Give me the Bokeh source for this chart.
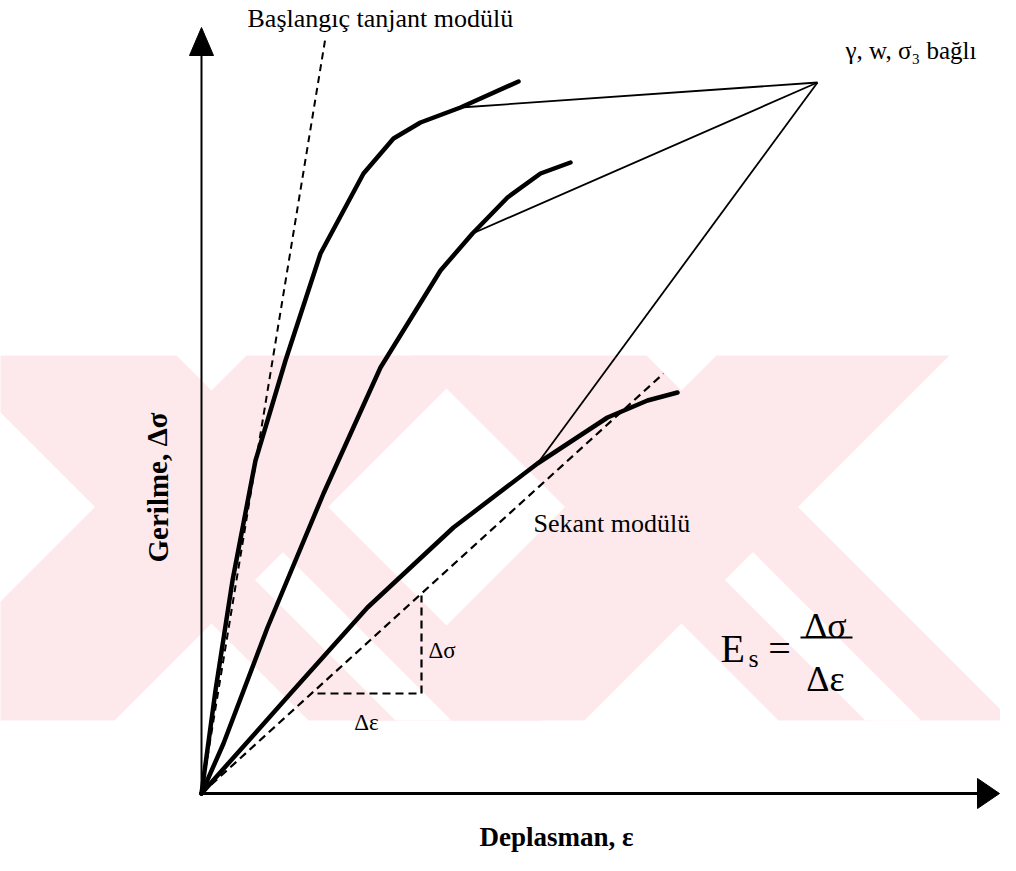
from bokeh.plotting import figure
from bokeh.models import Range1d, Label
from bokeh.core.properties import value
from bokeh.embed import file_html
from bokeh.resources import INLINE

# ---------------- data (schematic units: strain eps, stress dsigma) ----------------
curve1_eps = [0.00, 0.14, 0.31, 0.54, 0.84, 1.19, 1.62, 1.92, 2.19, 2.59, 3.17]
curve1_sig = [0.00, 1.03, 2.13, 3.33, 4.33, 5.40, 6.20, 6.55, 6.71, 6.86, 7.12]

curve2_eps = [0.00, 0.22, 0.66, 1.22, 1.79, 2.39, 2.71, 3.06, 3.39, 3.69]
curve2_sig = [0.00, 0.50, 1.66, 3.00, 4.26, 5.23, 5.60, 5.96, 6.20, 6.31]

curve3_eps = [0.00, 0.89, 1.66, 2.52, 3.36, 4.06, 4.46, 4.76]
curve3_sig = [0.00, 1.00, 1.86, 2.66, 3.30, 3.76, 3.93, 4.01]

peak_eps, peak_sig = 6.16, 7.11
# points on each curve joined to the common peak
join_eps = [2.59, 2.71, 3.36]
join_sig = [6.86, 5.60, 3.30]

tangent_eps = [0.00, 1.24]
tangent_sig = [0.00, 7.56]

secant_eps = [0.00, 4.62]
secant_sig = [0.00, 4.20]

tri_eps = [1.16, 2.20, 2.20]
tri_sig = [1.00, 1.00, 1.98]

# ---------------- figure ----------------
W, H = 1000, 855
# pixel -> data mapping helpers (origin of the diagram at picture pixel (201, 793), 100 px per unit)
OX, OY, S = 201.0, 793.0, 100.0
def dx(px):
    return (px - OX) / S
def dy(py):
    return (OY - py) / S

p = figure(width=W, height=H, output_backend="svg", toolbar_location=None,
           x_range=Range1d(dx(0), dx(W)), y_range=Range1d(dy(H), dy(0)),
           min_border=0)
p.axis.visible = False
p.grid.visible = False
p.outline_line_color = None
p.background_fill_color = "white"
p.border_fill_color = "white"

# ---------------- faint watermark (decoration) ----------------
PINK = "#fde8ec"
Y0, Y1 = 355, 720
def back_band(a, b):   # band  x - y in [a, b]
    xs = [a + Y0, b + Y0, b + Y1, a + Y1]
    ys = [Y0, Y0, Y1, Y1]
    return [dx(x) for x in xs], [dy(y) for y in ys]
def fwd_band(c, d):    # band  x + y in [c, d]
    xs = [c - Y0, d - Y0, d - Y1, c - Y1]
    ys = [Y0, Y0, Y1, Y1]
    return [dx(x) for x in xs], [dy(y) for y in ys]

for shift in (0, -470):
    for band in (back_band(58 + shift, 291 + shift), fwd_band(1071 + shift, 1304 + shift)):
        p.patch(band[0], band[1], fill_color=PINK, line_color=None)
for shift in (0, -470):
    a, b, v2 = 145 + shift, 201 + shift, 1304 + shift
    xs = [(v2 + a) / 2, (v2 + b) / 2, b + Y1, a + Y1]
    ys = [(v2 - a) / 2, (v2 - b) / 2, Y1, Y1]
    p.patch([dx(x) for x in xs], [dy(y) for y in ys], fill_color="white", line_color=None)

# ---------------- axes with arrows ----------------
p.line([0, 0], [0, 7.40], line_color="black", line_width=2)
p.patch([-0.12, 0.12, 0.0], [7.38, 7.38, 7.66], fill_color="black", line_color="black")
p.line([0, 7.78], [0, 0], line_color="black", line_width=3)
p.patch([7.76, 7.76, 7.98], [0.15, -0.15, 0.0], fill_color="black", line_color="black")

# ---------------- dashed construction lines ----------------
p.line(tangent_eps, tangent_sig, line_color="black", line_width=2, line_dash="7 5")
p.line(secant_eps, secant_sig, line_color="black", line_width=2.2, line_dash="8 5")
p.line(tri_eps, tri_sig, line_color="black", line_width=2.2, line_dash="8 5")

# ---------------- thin lines to the common peak ----------------
for e, s in zip(join_eps, join_sig):
    p.line([e, peak_eps], [s, peak_sig], line_color="black", line_width=1.8)

# ---------------- stress-strain curves ----------------
for xs, ys in ((curve1_eps, curve1_sig), (curve2_eps, curve2_sig), (curve3_eps, curve3_sig)):
    p.line(xs, ys, line_color="black", line_width=4.5, line_join="round", line_cap="round")

# ---------------- texts ----------------
SERIF = "Liberation Serif"
def lab(x, y, t, size, align="left", base="middle", bold=False, angle=0.0):
    p.add_layout(Label(x=x, y=y, text=t, text_font=SERIF, text_font_size=f"{size}px",
                       text_align=align, text_baseline=base, angle=angle,
                       text_font_style="bold" if bold else "normal", text_color="black"))

lab(dx(247), dy(18), "Başlangıç tanjant modülü", 26)
lab(dx(845), dy(50), "γ, w, σ₃ bağlı", 25)
lab(dx(533), dy(523), "Sekant modülü", 26)
lab(dx(428), dy(650), "Δσ", 23)
lab(dx(366), dy(722), "Δε", 23, align="center")

# formula Es = Δσ / Δε
lab(dx(720), dy(648), "E", 40, base="alphabetic")
lab(dx(748), dy(658), "s", 26, base="alphabetic")
lab(dx(779), dy(648), "=", 40, align="center", base="alphabetic")
lab(dx(825), dy(625), "Δσ", 36, align="center", base="alphabetic")
lab(dx(825), dy(678), "Δε", 36, align="center", base="alphabetic")
p.line([dx(800), dx(852)], [dy(637), dy(637)], line_color="black", line_width=2)

# axis titles
lab(dx(157), dy(487), "Gerilme, Δσ", 29, align="center", bold=True, angle=1.5708)
lab(dx(556), dy(836), "Deplasman, ε", 27, align="center", bold=True)

open("out.html", "w").write(file_html(p, INLINE))
